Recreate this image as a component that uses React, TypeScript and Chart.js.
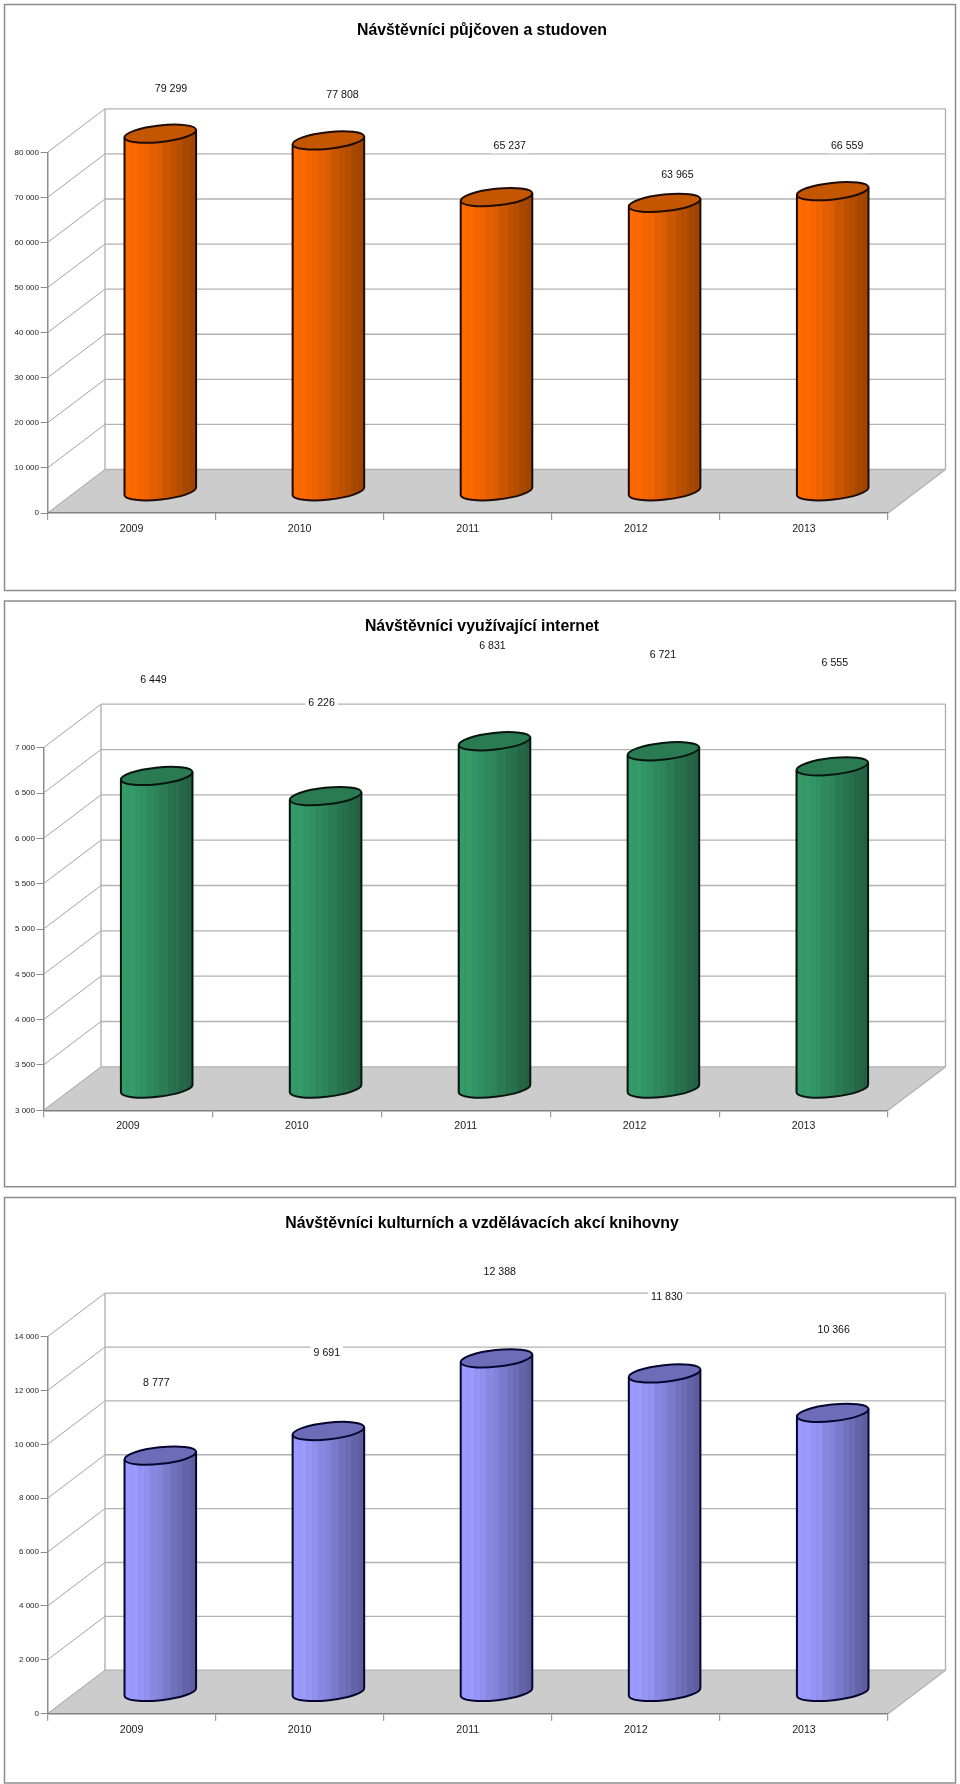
import React, { useEffect, useRef } from "react";
import { Chart, registerables } from "chart.js";

Chart.register(...registerables);

const years = ["2009", "2010", "2011", "2012", "2013"];
const lendingVisitors = [79299, 77808, 65237, 63965, 66559];
const internetVisitors = [6449, 6226, 6831, 6721, 6555];
const eventVisitors = [8777, 9691, 12388, 11830, 10366];

const titles = [
  "Návštěvníci půjčoven a studoven",
  "Návštěvníci využívající internet",
  "Návštěvníci kulturních a vzdělávacích akcí knihovny",
];

const FONT = "'Liberation Sans', Arial, sans-serif";
const DEPTH_X = 57.5;
const DEPTH_Y = -43.5;
const CAP_A = 36;
const CAP_B = 8.3;
const CAP_TILT = (-6.2 * Math.PI) / 180;

type Cfg = {
  title: string;
  values: number[];
  min: number;
  max: number;
  step: number;
  canvasTop: number;
  canvasHeight: number;
  panelTop: number;
  panelHeight: number;
  left: number;
  right: number;
  top: number;
  bottom: number;
  titleCenter: number;
  base: number[];
  dark: number[];
  cap: string;
  outline: string;
  labelOffsets: number[][];
};

const configs: Cfg[] = [
  {
    title: titles[0], values: lendingVisitors, min: 0, max: 80000, step: 10000,
    canvasTop: 0, canvasHeight: 596, panelTop: 4.5, panelHeight: 586,
    left: 47.5, right: 888, top: 152.3, bottom: 513, titleCenter: 30.4,
    base: [255, 106, 0], dark: [150, 66, 0], cap: "#C45600", outline: "#200b00",
    labelOffsets: [[10.7, -44.4], [14.1, -45.6], [13.3, -50.8], [12.8, -28.2], [14.4, -44.8]],
  },
  {
    title: titles[1], values: internetVisitors, min: 3000, max: 7000, step: 500,
    canvasTop: 596, canvasHeight: 596, panelTop: 5, panelHeight: 585.7,
    left: 43.5, right: 888, top: 151.7, bottom: 514.3, titleCenter: 30.8,
    base: [52, 155, 105], dark: [34, 92, 64], cap: "#2A7A52", outline: "#061510",
    labelOffsets: [[-3.2, -95.6], [-4, -93.1], [-2, -95.6], [-0.5, -95.9], [2.5, -102.9]],
  },
  {
    title: titles[2], values: eventVisitors, min: 0, max: 14000, step: 2000,
    canvasTop: 1192, canvasHeight: 592, panelTop: 5.5, panelHeight: 585.5,
    left: 47.5, right: 888, top: 144.7, bottom: 521.7, titleCenter: 31.2,
    base: [155, 155, 255], dark: [88, 88, 150], cap: "#6C6CB9", outline: "#060630",
    labelOffsets: [[-4, -72.9], [-1.6, -78], [3.3, -86.4], [2.3, -76.7], [1, -82.8]],
  },
];

const fmt = (v: number) => String(v).replace(/\B(?=(\d{3})+$)/g, " ");

const STRIPES = [0, -0.05, 0.04, 0, -0.04, 0.06, -0.02, 0.03, -0.05, 0.04, 0.01, -0.03];

function makeGradient(ctx: CanvasRenderingContext2D, x0: number, x1: number, base: number[], dark: number[]) {
  const g = ctx.createLinearGradient(x0, 0, x1, 0);
  const n = 26;
  for (let i = 0; i < n; i++) {
    const t = (i + 0.5) / n;
    let f = t < 0.14 ? 0.06 - t * 0.4 : Math.pow((t - 0.14) / 0.86, 1.1);
    f = Math.min(1, Math.max(0, f + STRIPES[i % STRIPES.length]));
    const c = base.map((b, k) => Math.round(b + (dark[k] - b) * f));
    const col = `rgb(${c[0]},${c[1]},${c[2]})`;
    g.addColorStop(i / n, col);
    g.addColorStop((i + 1) / n, col);
  }
  return g;
}

function bodyPath(ctx: CanvasRenderingContext2D, x: number, top: number, bottom: number) {
  const ex = CAP_A * Math.cos(CAP_TILT);
  const ey = CAP_A * Math.sin(CAP_TILT);
  ctx.moveTo(x - ex, top - ey);
  ctx.ellipse(x, top, CAP_A, CAP_B, CAP_TILT, Math.PI, 2 * Math.PI);
  ctx.lineTo(x + ex, bottom + ey);
  ctx.ellipse(x, bottom, CAP_A, CAP_B, CAP_TILT, 0, Math.PI);
  ctx.closePath();
}

function makePlugin(cfg: Cfg) {
  return {
    id: "depth3d",
    afterLayout(chart: any) {
      if (chart.titleBlock) {
        chart.titleBlock.left = 4;
        chart.titleBlock.right = 960;
      }
    },
    beforeDraw(chart: any) {
      const { ctx } = chart;
      const y = chart.scales.y;
      const x0 = chart.chartArea.left;
      const x1 = chart.chartArea.right;
      const y0 = chart.chartArea.bottom;
      ctx.save();
      ctx.fillStyle = "#ffffff";
      ctx.fillRect(0, 0, chart.width, chart.height);
      ctx.strokeStyle = "#8c8c8c";
      ctx.lineWidth = 1.5;
      ctx.strokeRect(4.5, cfg.panelTop, 951, cfg.panelHeight);

      ctx.fillStyle = "#CCCCCC";
      ctx.beginPath();
      ctx.moveTo(x0, y0);
      ctx.lineTo(x1, y0);
      ctx.lineTo(x1 + DEPTH_X, y0 + DEPTH_Y);
      ctx.lineTo(x0 + DEPTH_X, y0 + DEPTH_Y);
      ctx.closePath();
      ctx.fill();

      for (const t of y.ticks) {
        const py = y.getPixelForValue(t.value);
        ctx.strokeStyle = "#a3a3a3";
        ctx.lineWidth = 1;
        ctx.beginPath();
        ctx.moveTo(x0, py);
        ctx.lineTo(x0 + DEPTH_X, py + DEPTH_Y);
        ctx.stroke();
        ctx.strokeStyle = "#b2b2b2";
        ctx.lineWidth = 1.3;
        ctx.beginPath();
        ctx.moveTo(x0 + DEPTH_X, py + DEPTH_Y);
        ctx.lineTo(x1 + DEPTH_X, py + DEPTH_Y);
        ctx.stroke();
      }
      ctx.strokeStyle = "#b2b2b2";
      ctx.lineWidth = 1.4;
      ctx.beginPath();
      ctx.moveTo(x0 + DEPTH_X, y.getPixelForValue(cfg.max) + DEPTH_Y);
      ctx.lineTo(x0 + DEPTH_X, y0 + DEPTH_Y);
      ctx.moveTo(x1 + DEPTH_X, y.getPixelForValue(cfg.max) + DEPTH_Y);
      ctx.lineTo(x1 + DEPTH_X, y0 + DEPTH_Y);
      ctx.lineTo(x1, y0);
      ctx.stroke();
      ctx.restore();
    },
    beforeDatasetDraw(chart: any, args: any) {
      const { ctx } = chart;
      const base = chart.scales.y.getPixelForValue(cfg.min);
      ctx.save();
      ctx.translate(DEPTH_X / 2, DEPTH_Y / 2);
      args.meta.data.forEach((el: any) => {
        ctx.beginPath();
        bodyPath(ctx, el.x, el.y, base);
        ctx.fillStyle = el.options.backgroundColor;
        ctx.fill();
      });
      ctx.beginPath();
      args.meta.data.forEach((el: any) => bodyPath(ctx, el.x, el.y, base));
      ctx.clip();
    },
    afterDatasetDraw(chart: any, args: any) {
      const { ctx } = chart;
      ctx.restore();
      const base = chart.scales.y.getPixelForValue(cfg.min);
      const ex = CAP_A * Math.cos(CAP_TILT);
      const ey = CAP_A * Math.sin(CAP_TILT);
      ctx.save();
      ctx.translate(DEPTH_X / 2, DEPTH_Y / 2);
      ctx.strokeStyle = cfg.outline;
      ctx.lineWidth = 2;
      args.meta.data.forEach((el: any) => {
        ctx.beginPath();
        ctx.moveTo(el.x - ex, el.y - ey);
        ctx.lineTo(el.x - ex, base - ey);
        ctx.ellipse(el.x, base, CAP_A, CAP_B, CAP_TILT, Math.PI, 0, true);
        ctx.lineTo(el.x + ex, el.y + ey);
        ctx.stroke();
        ctx.beginPath();
        ctx.ellipse(el.x, el.y, CAP_A, CAP_B, CAP_TILT, 0, 2 * Math.PI);
        ctx.fillStyle = cfg.cap;
        ctx.fill();
        ctx.stroke();
      });
      ctx.restore();
    },
    afterDatasetsDraw(chart: any) {
      const { ctx } = chart;
      const meta = chart.getDatasetMeta(0);
      ctx.save();
      ctx.font = `10.6px ${FONT}`;
      ctx.textAlign = "center";
      ctx.textBaseline = "middle";
      meta.data.forEach((el: any, i: number) => {
        const text = fmt(cfg.values[i]);
        const lx = el.x + DEPTH_X / 2 + cfg.labelOffsets[i][0];
        const ly = el.y + DEPTH_Y / 2 + cfg.labelOffsets[i][1];
        const w = ctx.measureText(text).width + 6;
        ctx.fillStyle = "#ffffff";
        ctx.fillRect(lx - w / 2, ly - 7, w, 14);
        ctx.fillStyle = "#111111";
        ctx.fillText(text, lx, ly);
      });
      ctx.restore();
    },
  };
}

function Panel({ cfg }: { cfg: Cfg }) {
  const ref = useRef<HTMLCanvasElement>(null);
  useEffect(() => {
    const canvas = ref.current!;
    const titleTop = cfg.titleCenter - 9.5;
    const chart = new Chart(canvas, {
      type: "bar",
      data: {
        labels: years,
        datasets: [
          {
            label: cfg.title,
            data: cfg.values,
            borderWidth: 0,
            categoryPercentage: 1,
            barPercentage: 0.426,
            backgroundColor: (c: any) => {
              const ch = c.chart;
              const px = ch.scales.x && c.dataIndex !== undefined ? ch.scales.x.getPixelForValue(c.dataIndex) : NaN;
              if (!Number.isFinite(px)) return "#888888";
              return makeGradient(ch.ctx, px - CAP_A, px + CAP_A, cfg.base, cfg.dark);
            },
          },
        ],
      },
      options: {
        responsive: false,
        animation: false,
        layout: { padding: { left: 0, top: 0, bottom: 0, right: 960 - cfg.right } },
        plugins: {
          legend: { display: false },
          tooltip: { enabled: false },
          title: {
            display: true,
            text: cfg.title,
            color: "#000000",
            font: { family: FONT, size: 15.85, weight: "bold", lineHeight: 1.2 },
            padding: { top: titleTop, bottom: cfg.top - titleTop - 15.85 * 1.2 },
          },
        },
        scales: {
          x: {
            afterFit: (s: any) => {
              s.height = cfg.canvasHeight - cfg.bottom;
            },
            grid: { drawOnChartArea: false, drawTicks: true, tickLength: 7, color: "#999999", lineWidth: 1.2 },
            border: { color: "#808080", width: 1.6 },
            ticks: {
              color: "#222222",
              padding: 2.7,
              maxRotation: 0,
              font: { family: FONT, size: 10.6 },
            },
          },
          y: {
            min: cfg.min,
            max: cfg.max,
            afterFit: (s: any) => {
              s.width = cfg.left;
            },
            grid: { drawOnChartArea: false, drawTicks: true, tickLength: 7, color: "#8c8c8c", lineWidth: 1 },
            border: { color: "#8c8c8c", width: 1.5 },
            ticks: {
              stepSize: cfg.step,
              color: "#222222",
              padding: 1.5,
              font: { family: FONT, size: 8 },
              callback: (v: any) => fmt(Number(v)),
            },
          },
        },
      },
      plugins: [makePlugin(cfg)],
    } as any);
    return () => chart.destroy();
  }, [cfg]);
  return (
    <canvas
      ref={ref}
      width={960}
      height={cfg.canvasHeight}
      style={{ position: "absolute", left: 0, top: cfg.canvasTop, width: 960, height: cfg.canvasHeight, display: "block" }}
    />
  );
}

export default function App() {
  return (
    <div style={{ position: "absolute", left: 0, top: 0, width: 960, height: 1784, background: "#ffffff", overflow: "hidden" }}>
      {configs.map((c) => (
        <Panel key={c.title} cfg={c} />
      ))}
    </div>
  );
}
